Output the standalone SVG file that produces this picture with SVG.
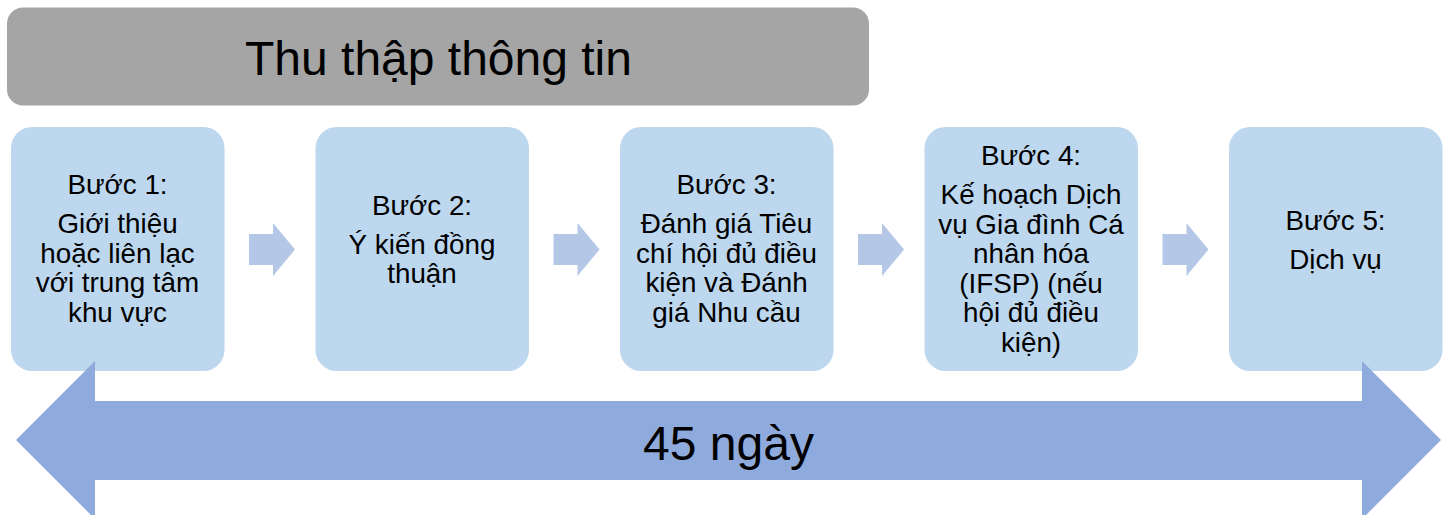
<svg xmlns="http://www.w3.org/2000/svg" width="1448" height="515" viewBox="0 0 1448 515">
<style>
.box{fill:#BDD7EE}
.t{font-family:"Liberation Sans",Arial,sans-serif;font-size:27.8px;fill:#000;text-anchor:middle}
.sa{fill:#B4C7E7}
</style>
<defs>
<path id="sm" d="M0,-15.5 H24 V-26.5 L46,0 L24,26.5 V15.5 H0 Z"/>
</defs>
<rect width="1448" height="515" fill="#fff"/>
<g id="header">
<rect x="7" y="7.5" width="862" height="98" rx="16" fill="#A5A5A5"/>
<text x="438.5" y="75" font-family="Liberation Sans, Arial, sans-serif" font-size="48" text-anchor="middle" fill="#000">Thu thập thông tin</text>
</g>
<g id="step1">
<rect class="box" x="11" y="127" width="213.5" height="244" rx="21"/>
<text class="t" x="117.5" y="194">Bước 1:</text>
<text class="t" x="117.5" y="233">Giới thiệu</text>
<text class="t" x="117.5" y="262.5">hoặc liên lạc</text>
<text class="t" x="117.5" y="292">với trung tâm</text>
<text class="t" x="117.5" y="321.5">khu vực</text>
</g>
<g id="step2">
<rect class="box" x="315.5" y="127" width="213.5" height="244" rx="21"/>
<text class="t" x="422" y="215">Bước 2:</text>
<text class="t" x="422" y="253.5">Ý kiến đồng</text>
<text class="t" x="422" y="283">thuận</text>
</g>
<g id="step3">
<rect class="box" x="620" y="127" width="213.5" height="244" rx="21"/>
<text class="t" x="726.5" y="194">Bước 3:</text>
<text class="t" x="726.5" y="233">Đánh giá Tiêu</text>
<text class="t" x="726.5" y="262.5">chí hội đủ điều</text>
<text class="t" x="726.5" y="292">kiện và Đánh</text>
<text class="t" x="726.5" y="321.5">giá Nhu cầu</text>
</g>
<g id="step4">
<rect class="box" x="924.5" y="127" width="213.5" height="244" rx="21"/>
<text class="t" x="1031" y="165">Bước 4:</text>
<text class="t" x="1031" y="204">Kế hoạch Dịch</text>
<text class="t" x="1031" y="233.5">vụ Gia đình Cá</text>
<text class="t" x="1031" y="263">nhân hóa</text>
<text class="t" x="1031" y="292.5">(IFSP) (nếu</text>
<text class="t" x="1031" y="322">hội đủ điều</text>
<text class="t" x="1031" y="351.5">kiện)</text>
</g>
<g id="step5">
<rect class="box" x="1229" y="127" width="213.5" height="244" rx="21"/>
<text class="t" x="1335.5" y="230">Bước 5:</text>
<text class="t" x="1335.5" y="268.5">Dịch vụ</text>
</g>
<g id="connectors">
<use href="#sm" class="sa" x="249" y="249.5"/>
<use href="#sm" class="sa" x="553.5" y="249.5"/>
<use href="#sm" class="sa" x="858" y="249.5"/>
<use href="#sm" class="sa" x="1162.5" y="249.5"/>
</g>
<g id="timeline">
<polygon points="16,440 95,361 95,401 1362,401 1362,361 1441,440 1362,519 1362,480 95,480 95,519" fill="#8FAADC"/>
<text x="728.5" y="460" font-family="Liberation Sans, Arial, sans-serif" font-size="48" text-anchor="middle" fill="#000">45 ngày</text>
</g>
</svg>
